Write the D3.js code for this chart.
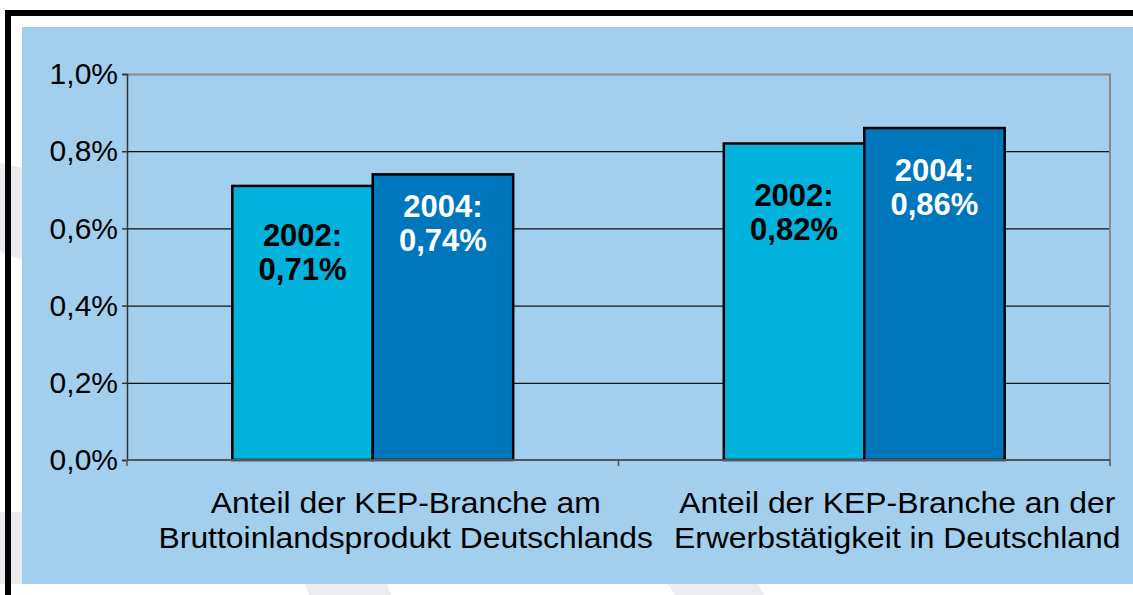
<!doctype html>
<html lang="de">
<head>
<meta charset="UTF-8">
<title>KEP-Branche</title>
<script src="https://d3js.org/d3.v7.min.js"></script>
<style>
  body { margin: 0; background: #fff; }
  svg { display: block; font-family: "Liberation Sans", Arial, sans-serif; }
</style>
</head>
<body>
<script>
// data
var categories = [
  ["Anteil der KEP-Branche am", "Bruttoinlandsprodukt Deutschlands"],
  ["Anteil der KEP-Branche an der", "Erwerbstätigkeit in Deutschland"]
];
var years = ["2002", "2004"];
var values2002 = [0.71, 0.82];
var values2004 = [0.74, 0.86];
var yTicks = [0, 0.2, 0.4, 0.6, 0.8, 1.0];

// layout (label baseline offset below bar top, px)
var labelDy = [[60, 43], [63, 53]];

var width = 1133, height = 595;
var margin = {left: 127, right: 23, top: 74, bottom: 135};

var svg = d3.select('body').append('svg')
  .attr('width', width)
  .attr('height', height);

// faint watermark shapes in the white margin
var marks = [
  [[0, 163], [22, 168], [22, 260], [0, 252]],
  [[0, 512], [22, 512], [22, 584], [0, 584]],
  [[305, 584], [387, 584], [391, 595], [309, 595]],
  [[668, 584], [758, 584], [764, 595], [675, 595]]
];
svg.selectAll('polygon.wm').data(marks).enter().append('polygon')
  .attr('class', 'wm')
  .attr('points', function(d){ return d.map(function(p){ return p.join(','); }).join(' '); })
  .attr('fill', '#ebebf0');

// blue panel
svg.append('rect')
  .attr('x', 22).attr('y', 27)
  .attr('width', width - 22).attr('height', 557)
  .attr('fill', '#a3cfee');

// black frame lines
svg.append('rect').attr('x', 5).attr('y', 10).attr('width', width - 5).attr('height', 6).attr('fill', '#000');
svg.append('rect').attr('x', 5).attr('y', 10).attr('width', 6).attr('height', height - 10).attr('fill', '#000');

var plotW = width - margin.left - margin.right;
var x0 = d3.scaleBand()
  .domain(d3.range(categories.length))
  .range([margin.left, margin.left + plotW]);
var x1 = d3.scaleBand()
  .domain(years)
  .range([0, x0.bandwidth()])
  .paddingOuter(0.75);
var y = d3.scaleLinear()
  .domain([0, 1])
  .range([460, margin.top]);

var g = svg.append('g');

// gridlines
g.selectAll('line.grid').data(yTicks.slice(1, -1)).enter().append('line')
  .attr('class', 'grid')
  .attr('x1', margin.left).attr('x2', margin.left + plotW)
  .attr('y1', function(d){ return y(d) + 0.5; })
  .attr('y2', function(d){ return y(d) + 0.5; })
  .attr('stroke', '#111').attr('stroke-width', 1.2);

// top & right border
g.append('path')
  .attr('d', 'M' + margin.left + ',' + (y(1) + 0.5) + 'H' + (margin.left + plotW) + 'V' + y(0))
  .attr('fill', 'none')
  .attr('stroke', '#8a8a8a').attr('stroke-width', 2);

// bars
var groups = g.selectAll('g.cat').data(categories).enter().append('g')
  .attr('class', 'cat')
  .attr('transform', function(d, i){ return 'translate(' + x0(i) + ',0)'; });

var colors = {"2002": "#00b2dc", "2004": "#0077bd"};
var textColors = {"2002": "#000", "2004": "#fff"};

groups.each(function(d, i){
  var grp = d3.select(this);
  var vals = [values2002[i], values2004[i]];
  years.forEach(function(yr, j){
    var v = vals[j];
    grp.append('rect')
      .attr('x', x1(yr))
      .attr('y', y(v))
      .attr('width', x1.bandwidth())
      .attr('height', y(0) - y(v))
      .attr('fill', colors[yr])
      .attr('stroke', '#000')
      .attr('stroke-width', 2.5);
    var t = grp.append('text')
      .attr('x', x1(yr) + x1.bandwidth() / 2)
      .attr('y', y(v) + labelDy[i][j])
      .attr('text-anchor', 'middle')
      .attr('font-weight', 'bold')
      .attr('font-size', 31)
      .attr('fill', textColors[yr]);
    t.append('tspan').text(yr + ':');
    t.append('tspan')
      .attr('x', x1(yr) + x1.bandwidth() / 2)
      .attr('dy', 34)
      .text(d3.format('.2f')(v).replace('.', ',') + '%');
  });
});

// y axis
var yAxis = d3.axisLeft(y)
  .tickValues(yTicks)
  .tickSize(5)
  .tickPadding(4)
  .tickFormat(function(d){ return d3.format('.1f')(d).replace('.', ',') + '%'; });
var ya = svg.append('g')
  .attr('transform', 'translate(' + margin.left + ',0)')
  .call(yAxis);
ya.select('.domain').attr('stroke', '#333').attr('stroke-width', 1.5);
ya.selectAll('.tick line').attr('stroke', '#333').attr('stroke-width', 1.5);
ya.selectAll('.tick text')
  .attr('font-size', 30)
  .attr('font-family', '"Liberation Sans", Arial, sans-serif')
  .attr('fill', '#000');

// x axis
var xa = svg.append('g')
  .attr('transform', 'translate(0,' + y(0) + ')');
xa.append('line')
  .attr('x1', margin.left).attr('x2', margin.left + plotW)
  .attr('stroke', '#555').attr('stroke-width', 2);
var bounds = d3.range(categories.length).map(function(i){ return x0(i); }).concat([margin.left + plotW]);
xa.selectAll('line.tk').data(bounds).enter().append('line')
  .attr('class', 'tk')
  .attr('x1', function(d){ return d; }).attr('x2', function(d){ return d; })
  .attr('y1', 0).attr('y2', 6)
  .attr('stroke', '#555').attr('stroke-width', 1.5);

// category labels (wide-set, shifted right as in the original)
var cl = svg.selectAll('text.cat').data(categories).enter().append('text')
  .attr('class', 'cat')
  .attr('text-anchor', 'middle')
  .attr('font-size', 29)
  .attr('fill', '#000')
  .attr('transform', function(d, i){
    return 'translate(' + (x0(i) + x0.bandwidth() / 2 + 33) + ',' + 513 + ') scale(1.1,1)';
  });
cl.selectAll('tspan').data(function(d){ return d; }).enter().append('tspan')
  .attr('x', 0)
  .attr('y', function(d, k){ return k * 35; })
  .text(function(d){ return d; });
</script>
</body>
</html>
